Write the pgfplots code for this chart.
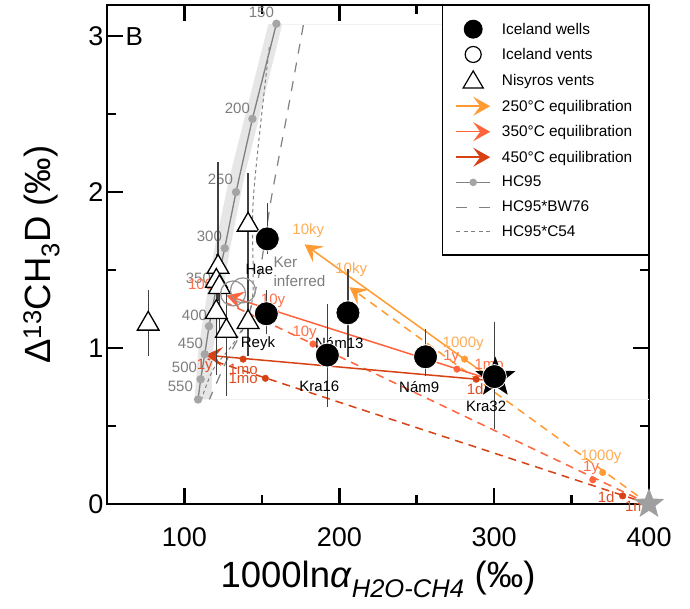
\documentclass[border=0pt]{standalone}
\usepackage{fontspec}
\setmainfont{Liberation Sans}
\setsansfont{Liberation Sans}
\usepackage{pgfplots}
\pgfplotsset{compat=1.18}
\usetikzlibrary{arrows.meta}

\definecolor{c250}{RGB}{255,155,50}
\definecolor{c350}{RGB}{255,100,60}
\definecolor{c450}{RGB}{215,65,20}
\definecolor{t250}{RGB}{255,172,85}
\definecolor{t350}{RGB}{255,112,72}
\definecolor{t450}{RGB}{222,78,36}
\definecolor{hcline}{RGB}{128,128,128}
\definecolor{hcdot}{RGB}{165,165,165}
\definecolor{hctext}{RGB}{125,125,125}
\definecolor{band}{RGB}{230,230,230}

% filled five-pointed star
\pgfdeclareplotmark{fstar}{%
  \pgfpathmoveto{\pgfpointpolar{90}{\pgfplotmarksize}}%
  \pgfpathlineto{\pgfpointpolar{126}{0.42\pgfplotmarksize}}%
  \pgfpathlineto{\pgfpointpolar{162}{\pgfplotmarksize}}%
  \pgfpathlineto{\pgfpointpolar{198}{0.42\pgfplotmarksize}}%
  \pgfpathlineto{\pgfpointpolar{234}{\pgfplotmarksize}}%
  \pgfpathlineto{\pgfpointpolar{270}{0.42\pgfplotmarksize}}%
  \pgfpathlineto{\pgfpointpolar{306}{\pgfplotmarksize}}%
  \pgfpathlineto{\pgfpointpolar{342}{0.42\pgfplotmarksize}}%
  \pgfpathlineto{\pgfpointpolar{18}{\pgfplotmarksize}}%
  \pgfpathlineto{\pgfpointpolar{54}{0.42\pgfplotmarksize}}%
  \pgfpathclose
  \pgfusepathqfill}

\tikzset{
  lbl/.style={font=\fontsize{15}{17}\selectfont, inner sep=0pt},
  arr/.style={-{Stealth[length=17pt,width=19pt,inset=7pt]}},
  lgbox/.style={draw=none, fill=none},
}
\pgfplotsset{
  errb/.style={black!75, line width=1.3pt},
  eqdash/.style={line width=1.5pt, dash pattern=on 8pt off 6pt},
}

\begin{document}
\begin{tikzpicture}
\begin{axis}[
  scale only axis,
  width=542pt, height=499pt,
  xmin=50, xmax=400, ymin=0, ymax=3.2,
  xtick={100,200,300,400}, minor xtick={150,250,350},
  ytick={0,1,2,3}, minor ytick={0.5,1.5,2.5},
  xtick pos=both, ytick pos=both, tick align=inside,
  major tick length=16pt, minor tick length=9pt,
  tick style={black, line width=2.6pt},
  axis line style={line width=2.6pt},
  clip=false,
  /pgf/number format/assume math mode=true,
  tick label style={font=\fontsize{27}{30}\selectfont},
  xticklabel style={yshift=-20pt},
  xlabel={1000ln\textit{α}\textsubscript{\textit{H2O-CH4}} (‰)},
  ylabel={Δ\textsuperscript{13}CH\textsubscript{3}D (‰)},
  label style={font=\fontsize{36.5}{40}\selectfont},
  xlabel shift=8pt, ylabel shift=22pt,
  legend cell align=left,
  legend style={at={(1,1)}, anchor=north east, draw=black, line width=1.5pt,
    fill=white, font=\fontsize{15.4}{18}\selectfont,
    inner xsep=13pt, inner ysep=14pt, row sep=6.5pt,
    nodes={inner sep=3pt},
    /tikz/every odd column/.append style={column sep=8pt}},
]
% legend
\addlegendimage{legend image code/.code={\path[lgbox] (0pt,-7pt) rectangle (34pt,7pt);
  \fill[black] (17pt,0pt) circle (8.7pt);}}
\addlegendentry{Iceland wells}
\addlegendimage{legend image code/.code={\path[lgbox] (0pt,-7pt) rectangle (34pt,7pt);
  \draw[black,fill=none,line width=1.2pt] (17pt,0pt) circle (8pt);}}
\addlegendentry{Iceland vents}
\addlegendimage{legend image code/.code={\path[lgbox] (0pt,-7pt) rectangle (34pt,7pt);
  \draw[black,fill=none,line width=1.2pt] (7pt,-7pt) -- (27pt,-7pt) -- (17pt,10pt) -- cycle;}}
\addlegendentry{Nisyros vents}
\addlegendimage{legend image code/.code={\path[lgbox] (0pt,-7pt) rectangle (34pt,7pt);
  \draw[c250,line width=1.5pt,arr] (0pt,0pt) -- (34pt,0pt);}}
\addlegendentry{250°C equilibration}
\addlegendimage{legend image code/.code={\path[lgbox] (0pt,-7pt) rectangle (34pt,7pt);
  \draw[c350,line width=1.5pt,arr] (0pt,0pt) -- (34pt,0pt);}}
\addlegendentry{350°C equilibration}
\addlegendimage{legend image code/.code={\path[lgbox] (0pt,-7pt) rectangle (34pt,7pt);
  \draw[c450,line width=1.5pt,arr] (0pt,0pt) -- (34pt,0pt);}}
\addlegendentry{450°C equilibration}
\addlegendimage{legend image code/.code={\path[lgbox] (0pt,-7pt) rectangle (34pt,7pt);
  \draw[hcline,line width=1.3pt] (0pt,0pt) -- (34pt,0pt);
  \fill[hcdot] (17pt,0pt) circle (3pt);}}
\addlegendentry{HC95}
\addlegendimage{legend image code/.code={\path[lgbox] (0pt,-7pt) rectangle (34pt,7pt);
  \draw[hcline,line width=1.2pt,dash pattern=on 11pt off 12pt] (0pt,0pt) -- (34pt,0pt);}}
\addlegendentry{HC95*BW76}
\addlegendimage{legend image code/.code={\path[lgbox] (0pt,-7pt) rectangle (34pt,7pt);
  \draw[hcline,line width=1pt,dash pattern=on 4pt off 3.5pt] (0pt,0pt) -- (34pt,0pt);}}
\addlegendentry{HC95*C54}

% uncertainty band of HC95
\addplot[fill=band, draw=none] coordinates {
  (154.2,3.077) (129,2.09) (119.4,1.639) (109,0.994) (106.5,0.671)
  (117.4,0.671) (118.5,0.994) (129.5,1.639) (138.5,2.09) (163.2,3.077)} -- cycle;
\addplot[gray!12, line width=0.6pt] coordinates {(117.4,0.671) (400,0.671)};
\addplot[gray!10, line width=0.6pt] coordinates {(163.2,3.077) (400,3.077)};

% HC95*BW76 and HC95*C54
\addplot[hcline, line width=1.2pt, dash pattern=on 10pt off 9pt, smooth] coordinates {
  (176.8,3.071) (166.5,2.51) (156.1,1.961) (149,1.51) (140.6,1.187) (127.7,0.929) (116.1,0.671)};
\addplot[hcline, line width=1pt, dash pattern=on 3.5pt off 3pt, smooth] coordinates {
  (154.8,2.929) (144.5,1.961) (143.9,1.316) (133.5,1.058) (118.7,0.865) (111,0.671)};

% HC95
\addplot[hcline, line width=1.3pt, mark=*, mark size=3.5pt, mark options={hcdot, draw=hcdot}] coordinates {
  (159.4,3.08) (143.9,2.47) (133.3,2.00) (126,1.64) (120.6,1.39)
  (115.9,1.14) (113.1,0.96) (110.5,0.80) (108.8,0.67)};
\node[lbl, text=hctext] at (axis cs:149.7,3.155) {150};
\node[lbl, text=hctext] at (axis cs:134.2,2.54) {200};
\node[lbl, text=hctext] at (axis cs:123.2,2.08) {250};
\node[lbl, text=hctext] at (axis cs:116.1,1.716) {300};
\node[lbl, text=hctext] at (axis cs:109,1.45) {350};
\node[lbl, text=hctext] at (axis cs:106.5,1.213) {400};
\node[lbl, text=hctext] at (axis cs:103.9,1.03) {450};
\node[lbl, text=hctext] at (axis cs:100,0.877) {500};
\node[lbl, text=hctext] at (axis cs:97.4,0.755) {550};

% equilibration paths: solid from Kra32, dashed from the grey star
\addplot[c250, line width=1.5pt, arr] coordinates {(300.2,0.79) (177.6,1.665)};
\addplot[c250, eqdash, arr] coordinates {(400,0) (206.6,1.39)};
\addplot[c350, line width=1.5pt, arr] coordinates {(300.2,0.79) (127.1,1.337)};
\addplot[c350, eqdash] coordinates {(400,0) (127.1,1.29)};
\addplot[c450, line width=1.5pt, arr] coordinates {(300.2,0.79) (113.5,0.955)};
\addplot[c450, eqdash] coordinates {(400,0) (115,0.93)};

\addplot[only marks, mark=*, mark size=3.3pt, c250] coordinates {(280.9,0.929) (370.1,0.202)};
\addplot[only marks, mark=*, mark size=3.3pt, c350] coordinates {(158.7,1.234) (276,0.865) (183,1.026) (363.7,0.155)};
\addplot[only marks, mark=*, mark size=3.3pt, c450] coordinates {(288.4,0.80) (137.9,0.929) (383,0.052) (152.3,0.806)};

\node[lbl, text=t250] at (axis cs:180,1.755) {10ky};
\node[lbl, text=t250] at (axis cs:207.7,1.5) {10ky};
\node[lbl, text=t250] at (axis cs:280,1.026) {1000y};
\node[lbl, text=t250] at (axis cs:369,0.305) {1000y};
\node[lbl, text=t350] at (axis cs:112.9,1.4) {100y};
\node[lbl, text=t350] at (axis cs:157.2,1.305) {10y};
\node[lbl, text=t350] at (axis cs:177.6,1.10) {10y};
\node[lbl, text=t350] at (axis cs:272.3,0.942) {1y};
\node[lbl, text=t350] at (axis cs:296.8,0.897) {1mo};
\node[lbl, text=t350] at (axis cs:362.6,0.23) {1y};
\node[lbl, text=t450] at (axis cs:113.1,0.884) {1y};
\node[lbl, text=t450] at (axis cs:137.9,0.865) {1mo};
\node[lbl, text=t450] at (axis cs:137.9,0.805) {1mo};
\node[lbl, text=t450] at (axis cs:287.7,0.735) {1d};
\node[lbl, text=t450] at (axis cs:372.3,0.047) {1d};
\node[lbl, text=t450] at (axis cs:394,-0.013) {1mo};

% error bars
\addplot[errb] coordinates {(76.6,0.95) (76.6,1.37)};
\addplot[errb] coordinates {(141.1,1.45) (141.1,2.12)};
\addplot[errb] coordinates {(121.7,1.30) (121.7,2.19)};
\addplot[errb] coordinates {(120.6,1.20) (120.6,1.60)};
\addplot[errb] coordinates {(122.6,1.10) (122.6,1.50)};
\addplot[errb] coordinates {(120.6,0.83) (120.6,1.40)};
\addplot[errb] coordinates {(127.1,0.69) (127.1,1.35)};
\addplot[errb] coordinates {(141.1,0.95) (141.1,1.75)};
\addplot[errb] coordinates {(153.5,1.60) (153.5,1.93)};
\addplot[errb] coordinates {(152.9,1.09) (152.9,1.37)};
\addplot[errb] coordinates {(205.6,0.944) (205.6,1.505)};
\addplot[errb] coordinates {(192.3,0.62) (192.3,1.284)};
\addplot[errb] coordinates {(255.7,0.82) (255.7,1.12)};
\addplot[errb] coordinates {(300.2,0.48) (300.2,1.17)};

% Nisyros vents
\addplot[only marks, mark=triangle*, mark size=12.5pt,
  mark options={fill=white, draw=black, line width=1.3pt}] coordinates {
  (76.6,1.155) (141.1,1.79) (121.7,1.52) (120.6,1.43) (122.6,1.39)
  (120.6,1.23) (127.1,1.11) (141.1,1.166)};

% Iceland vents
\addplot[only marks, mark=o, mark size=12.5pt,
  mark options={draw=gray!85, line width=1.2pt}] coordinates {(131.4,1.35) (137.8,1.37)};

% Kra32 star and Iceland wells
\addplot[only marks, mark=fstar, mark size=21pt, black] coordinates {(300.8,0.81)};
\addplot[only marks, mark=*, mark size=12pt,
  mark options={fill=black, draw=white, line width=0.8pt}] coordinates {
  (153.5,1.70) (152.9,1.22) (205.6,1.226) (192.3,0.955) (255.7,0.944) (300.2,0.817)};

% grey star
\addplot[only marks, mark=fstar, mark size=16pt, gray!75] coordinates {(400,0)};

\node[lbl] at (axis cs:148.4,1.505) {Hae};
\node[lbl] at (axis cs:147.5,1.026) {Reyk};
\node[lbl] at (axis cs:200,1.032) {Nám13};
\node[lbl] at (axis cs:187.1,0.757) {Kra16};
\node[lbl] at (axis cs:251.6,0.748) {Nám9};
\node[lbl] at (axis cs:294.8,0.628) {Kra32};
\node[font=\fontsize{15.3}{18.7}\selectfont, inner sep=0pt, text=hctext, align=left, anchor=west]
  at (axis cs:157.4,1.49) {Ker\\inferred};
\node[font=\fontsize{26}{30}\selectfont, inner sep=0pt] at (axis cs:67.7,3.0) {B};
\end{axis}
\pgfresetboundingbox
\path ([xshift=-107pt,yshift=-105pt]current axis.south west) rectangle ++(690pt,609pt);
\end{tikzpicture}
\end{document}
